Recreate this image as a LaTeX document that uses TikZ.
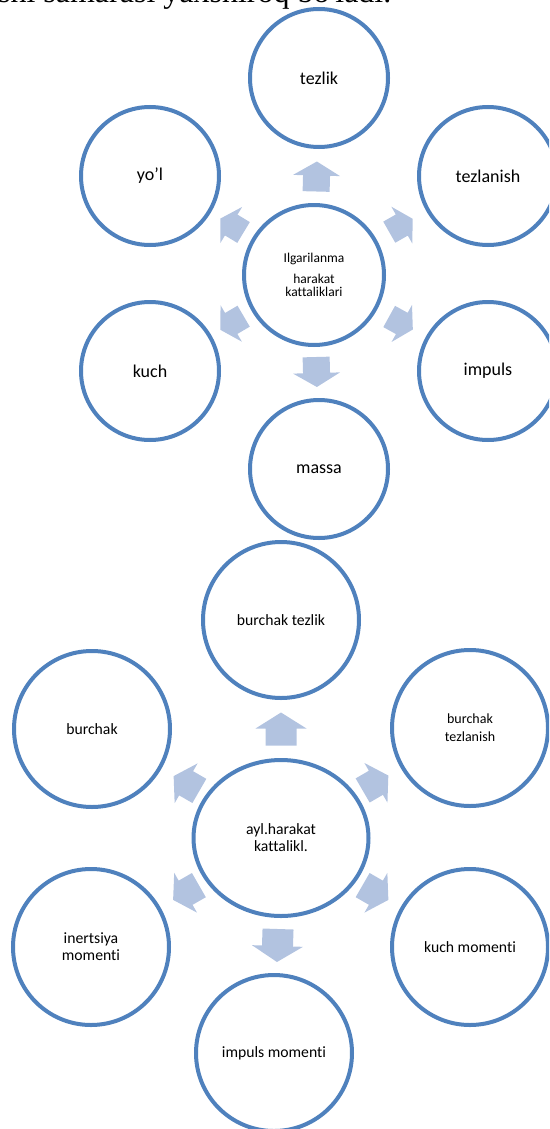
\documentclass[tikz,border=0pt]{standalone}
\usepackage{fontspec}
\setmainfont{Carlito}[Ligatures={ResetAll,NoCommon}]
\newfontfamily\tms{Liberation Serif}
\usetikzlibrary{calc,shapes.geometric}
\definecolor{ringblue}{RGB}{79,129,189}
\definecolor{arrowfill}{RGB}{178,195,224}
% block arrow between two named nodes: from, to, scale, half length, half head width, half shaft width, head length
\newcommand\radarrow[7]{%
  \pgfmathanglebetweenpoints{\pgfpointanchor{#1}{center}}{\pgfpointanchor{#2}{center}}%
  \let\rarang\pgfmathresult
  \begin{scope}[shift={($(#1.center)!0.5!(#2.center)$)}, rotate=\rarang, scale=#3]
    \fill[arrowfill] (#4,0) -- (#4-#7,#5) -- (#4-#7,#6) -- (-#4,#6) -- (-#4,-#6)
      -- (#4-#7,-#6) -- (#4-#7,-#5) -- cycle;
  \end{scope}}
\begin{document}
\begin{tikzpicture}[x=1pt,y=-1pt,
  ring/.style={circle, draw=ringblue, line width=4pt, fill=white, inner sep=0pt,
    align=center, minimum size=#1},
  ring/.default=138pt,
  oval/.style={ellipse, draw=ringblue, line width=4pt, fill=white, inner sep=0pt,
    align=center, minimum width=175pt, minimum height=156pt},
  bigtxt/.style={font=\fontsize{18}{21}\selectfont},
  midtxt/.style={font=\fontsize{15.7}{17}\selectfont},
  smalltxt/.style={font=\fontsize{14}{18}\selectfont},
  ctrtxt/.style={font=\fontsize{13.5}{13}\selectfont},
  topline/.style={font=\tms\fontsize{32}{32}\selectfont, anchor=base west, inner sep=0pt}]
\useasboundingbox (0,0) rectangle (549,1129);
\clip (0,0) rectangle (549,1129);

% cut-off line of the page text
\node[topline] (line) at (-11,3) {ishi samarasi yaxshiroq bo'ladi.};

% ---- upper diagram
\node[ring=140pt, ctrtxt] (c1) at (314,275) {Ilgarilanma\\[7.5pt]harakat\\kattaliklari};
\node[ring, bigtxt] (tezlik) at (319,78) {tezlik};
\node[ring, bigtxt] (yol) at (150,176) {yo'l};
\node[ring, bigtxt] (tezlanish) at (488,176) {tezlanish};
\node[ring, bigtxt] (kuch) at (150,371) {kuch};
\node[ring, bigtxt] (impuls) at (488,371) {impuls};
\node[ring, bigtxt] (massa) at (319,469) {massa};

\radarrow{c1}{tezlik}{1}{15}{23.5}{13.5}{14}
\radarrow{c1}{massa}{1}{15}{23.5}{13.5}{14}
\radarrow{c1}{yol}{0.9}{15}{23.5}{13.5}{14}
\radarrow{c1}{tezlanish}{0.9}{15}{23.5}{13.5}{14}
\radarrow{c1}{kuch}{0.9}{15}{23.5}{13.5}{14}
\radarrow{c1}{impuls}{0.9}{15}{23.5}{13.5}{14}

% ---- lower diagram
\node[oval, midtxt] (c2) at (281,838) {ayl.harakat\\kattalikl.};
\node[ring=156pt, midtxt] (btezlik) at (281,620) {burchak tezlik};
\node[ring=156pt, midtxt] (burchak) at (92,729) {burchak};
\node[ring=156pt, smalltxt] (btezlanish) at (470,728) {burchak\\tezlanish};
\node[ring=156pt, midtxt] (inertsiya) at (91,947) {inertsiya\\momenti};
\node[ring=156pt, midtxt] (kmoment) at (470,947) {kuch momenti};
\node[ring=156pt, midtxt] (imoment) at (274,1053) {impuls momenti};

\radarrow{c2}{btezlik}{1}{16.5}{25.5}{15.5}{16}
\radarrow{c2}{imoment}{1}{16.5}{25.5}{15.5}{16}
\radarrow{c2}{burchak}{0.9}{16.5}{25.5}{15.5}{16}
\radarrow{c2}{btezlanish}{0.9}{16.5}{25.5}{15.5}{16}
\radarrow{c2}{inertsiya}{0.9}{16.5}{25.5}{15.5}{16}
\radarrow{c2}{kmoment}{0.9}{16.5}{25.5}{15.5}{16}
\end{tikzpicture}
\end{document}
